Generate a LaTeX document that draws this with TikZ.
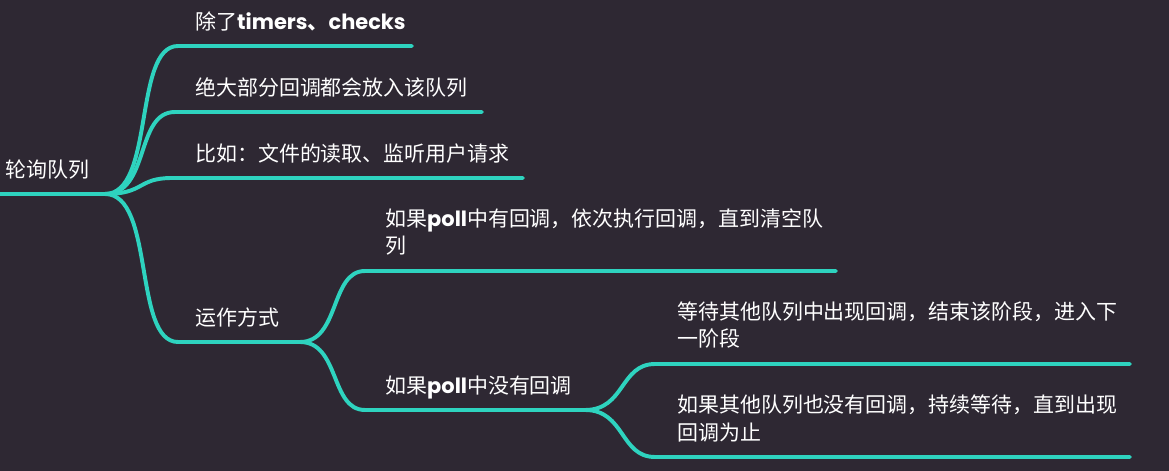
\documentclass[tikz,border=0pt]{standalone}
\usepackage{fontspec}
\setmainfont{Noto Sans CJK SC}
\newfontfamily\kwfont{Poppins}
\newcommand{\kw}[1]{{\kwfont\bfseries #1}}
\definecolor{bgdark}{HTML}{2E2833}
\definecolor{mapteal}{HTML}{2ED3BF}
\tikzset{
  topic/.style={text=white, font=\fontsize{14.9}{19.9}\selectfont, anchor=base west, align=left, inner sep=0pt},
  branch/.style={draw=mapteal, line width=2.8pt, line cap=round},
}
\begin{document}
\begin{tikzpicture}[x=0.025cm, y=-0.025cm]
  \fill[bgdark] (0,0) rectangle (1169,471);
  \useasboundingbox (0,0) rectangle (1169,471);
  % root
  \coordinate (root) at (0,194);
  \coordinate (rootend) at (105,194);
  \node[topic] (rootlabel) at (5,178) {轮询队列};
  \draw[branch] (root) -- (rootend);
  % first level
  \coordinate (a1) at (178,46);
  \coordinate (a1e) at (412,46);
  \coordinate (a2) at (175,112);
  \coordinate (a2e) at (482,112);
  \coordinate (a3) at (172,178);
  \coordinate (a3e) at (523,178);
  \coordinate (a4) at (178,342);
  \coordinate (a4e) at (300,342);
  \node[topic] (a1label) at (195,30) {除了\kw{timers}{\bfseries 、}\kw{checks}};
  \node[topic] (a2label) at (195,96) {绝大部分回调都会放入该队列};
  \node[topic] (a3label) at (195,162) {比如：文件的读取、监听用户请求};
  \node[topic] (a4label) at (195,326) {运作方式};
  \draw[branch] (rootend) .. controls +(50,0) and +(-45,0) .. (a1) -- (a1e);
  \draw[branch] (rootend) .. controls +(45,0) and +(-40,0) .. (a2) -- (a2e);
  \draw[branch] (rootend) .. controls +(40,0) and +(-35,0) .. (a3) -- (a3e);
  \draw[branch] (rootend) .. controls +(50,0) and +(-45,0) .. (a4) -- (a4e);
  % second level
  \coordinate (b1) at (365,271);
  \coordinate (b1e) at (836,271);
  \coordinate (b2) at (365,410);
  \coordinate (b2e) at (585,410);
  \node[topic] (b1label) at (385,254) {如果\kw{poll}中有回调，依次执行回调，直到清空队\\列};
  \node[topic] (b2label) at (385,393) {如果\kw{poll}中没有回调};
  \draw[branch] (a4e) .. controls +(40,0) and +(-35,0) .. (b1) -- (b1e);
  \draw[branch] (a4e) .. controls +(40,0) and +(-35,0) .. (b2) -- (b2e);
  % third level
  \coordinate (c1) at (655,364);
  \coordinate (c1e) at (1130,364);
  \coordinate (c2) at (655,457);
  \coordinate (c2e) at (1130,457);
  \node[topic] (c1label) at (677,347) {等待其他队列中出现回调，结束该阶段，进入下\\一阶段};
  \node[topic] (c2label) at (677,440) {如果其他队列也没有回调，持续等待，直到出现\\回调为止};
  \draw[branch] (b2e) .. controls +(40,0) and +(-35,0) .. (c1) -- (c1e);
  \draw[branch] (b2e) .. controls +(40,0) and +(-35,0) .. (c2) -- (c2e);
\end{tikzpicture}
\end{document}
